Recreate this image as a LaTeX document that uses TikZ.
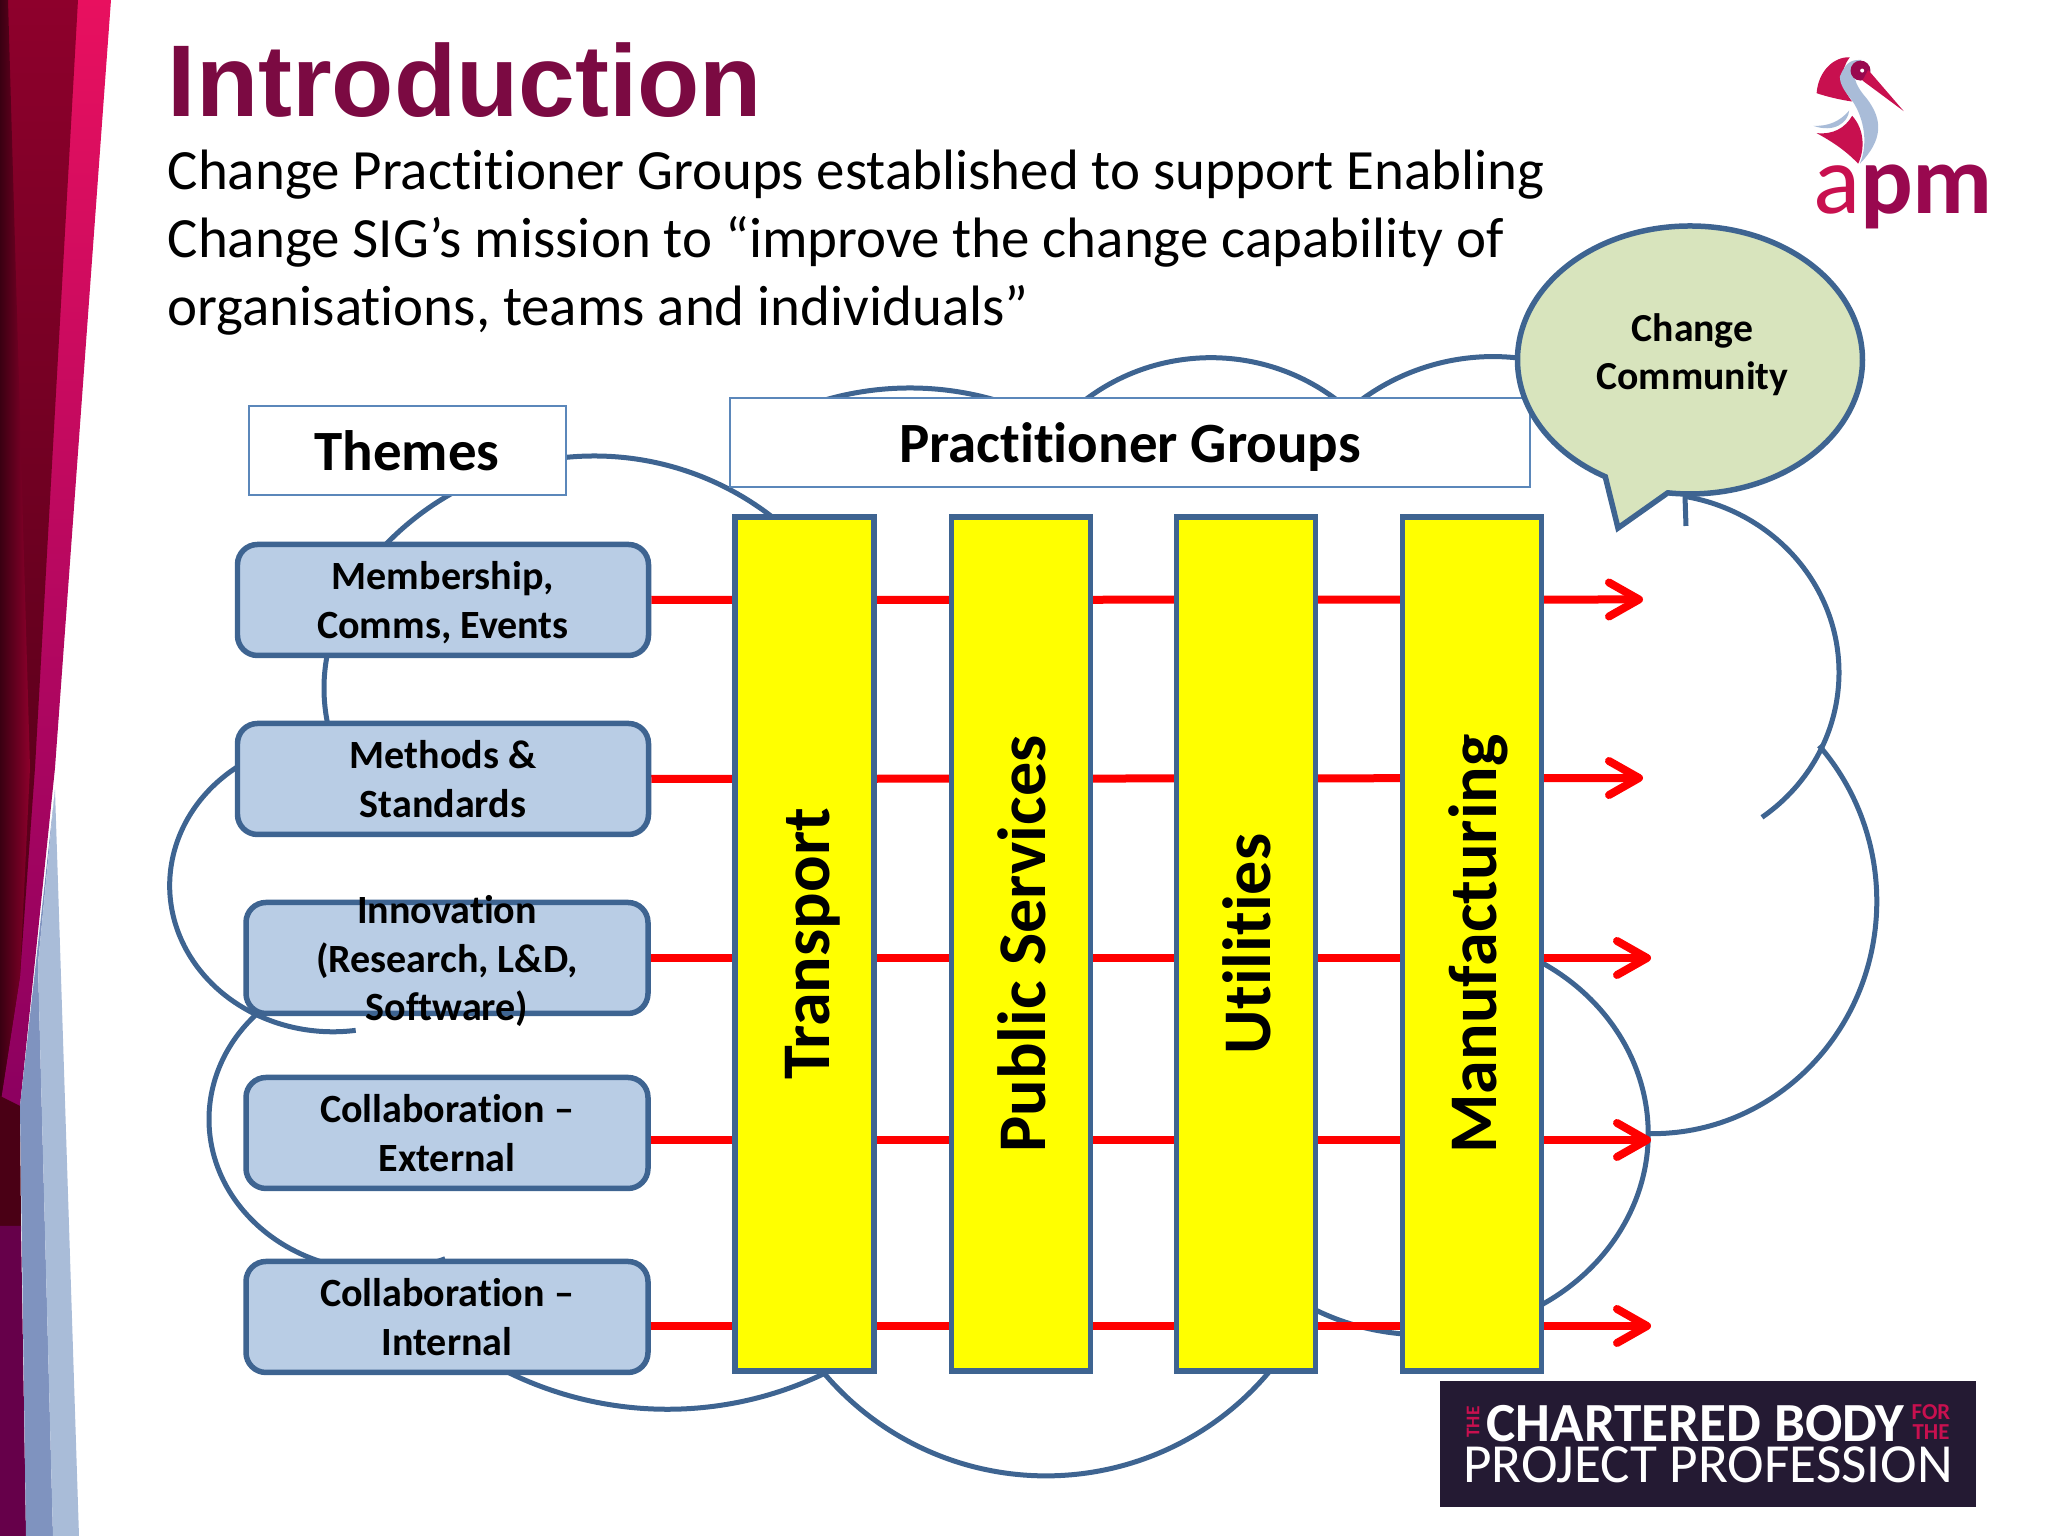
\documentclass[tikz,border=0pt]{standalone}
\usepackage{fontspec}
\setmainfont{Carlito}[Ligatures=NoCommon]
\newfontfamily\titlefont{Liberation Sans}
\usetikzlibrary{arrows.meta,positioning,backgrounds,shapes.callouts}
\definecolor{outline}{HTML}{3E6491}
\definecolor{thinline}{HTML}{5B87BA}
\definecolor{themefill}{HTML}{B9CDE5}
\definecolor{bubblefill}{HTML}{D8E4BD}
\definecolor{barfill}{HTML}{FFFF00}
\definecolor{arrowred}{HTML}{FF0000}
\definecolor{titlecol}{HTML}{7B0A42}
\definecolor{bannercol}{HTML}{241A33}
\definecolor{pinkcol}{HTML}{E8105F}
\definecolor{magentacol}{HTML}{8C0060}
\definecolor{crimson}{HTML}{8E002C}
\definecolor{banddark}{HTML}{3A0012}
\definecolor{bandred}{HTML}{4A0015}
\definecolor{bandpurple}{HTML}{66004A}
\definecolor{bandblue}{HTML}{7F93BF}
\definecolor{apmdark}{HTML}{99084F}
\definecolor{apmred}{HTML}{C8104F}
\definecolor{apmblue}{HTML}{A9BCD8}
\newcommand{\barlabel}[1]{\rotatebox{90}{\rule[-6pt]{0pt}{26pt}#1}}
\newcommand{\cloudarc}[6]{\draw [cloud] (#1,#2) ++(#5:#3 and #4) arc [start angle=#5, end angle=#6, x radius=#3, y radius=#4];}

\begin{document}
\begin{tikzpicture}[node distance=2cm, auto]
      % Define block styles
      \tikzstyle{theme} = [rectangle, draw=outline, line width=0.055cm, fill=themefill, rounded corners=0.2cm, minimum width=4.02cm, minimum height=1.11cm, align=center, inner sep=0pt, text depth=-0.9pt, font=\fontsize{11.4}{13.7}\selectfont\bfseries]
      \tikzstyle{sector} = [rectangle, draw=outline, line width=0.055cm, fill=barfill, minimum width=1.39cm, minimum height=8.54cm, inner sep=0pt, font=\fontsize{19.4}{24}\selectfont\bfseries]
      \tikzstyle{header} = [rectangle, draw=thinline, line width=0.02cm, fill=white, minimum height=0.89cm, inner sep=0pt, text depth=0pt, font=\fontsize{16.2}{16}\selectfont\bfseries]
      \tikzstyle{line} = [draw=arrowred, line width=0.08cm, -{Straight Barb[length=0.3cm, width=0.34cm, round]}]
      \tikzstyle{cloud} = [draw=outline, line width=0.05cm]

      \useasboundingbox (0,0) rectangle (20.48,15.36);

      % Side band
      \shade [top color=pinkcol, middle color=pinkcol, bottom color=magentacol] (0,15.36) -- (1.11,15.36) -- (0.55,7.68) -- (0.20,4.30) -- (0,4.30) -- cycle;
      \shade [top color=crimson, bottom color=bandred] (0,15.36) -- (0.78,15.36) -- (0.35,7.68) -- (0.20,5.60) -- (0,4.30) -- cycle;
      \shade [left color=banddark, right color=crimson] (0,15.36) -- (0.08,15.36) -- (0.30,7.68) -- (0.20,5.60) -- (0,4.30) -- cycle;
      \fill [bandred] (0,4.40) -- (0.20,4.30) -- (0.21,3.10) -- (0,3.10) -- cycle;
      \fill [bandpurple] (0,3.10) -- (0.21,3.10) -- (0.26,0) -- (0,0) -- cycle;
      \fill [bandblue] (0.55,7.46) -- (0.20,4.30) -- (0.26,0) -- (0.53,0) -- (0.38,5.72) -- cycle;
      \fill [apmblue] (0.55,7.46) -- (0.79,0) -- (0.53,0) -- (0.38,5.72) -- cycle;

      % Title and intro text
      \node [anchor=base west, inner sep=0pt, text=titlecol, font=\fontsize{29}{29}\titlefont\bfseries] (title) at (1.67,14.19) {Introduction};
      \node [anchor=north west, inner sep=0pt, align=left, font=\fontsize{16.2}{19.35}\selectfont] (intro) at (1.67,13.87) {Change Practitioner Groups established to support Enabling\\Change SIG’s mission to “improve the change capability of\\organisations, teams and individuals”};

      % Place theme blocks
      \node [theme, minimum width=4.11cm] (member) at (4.43,9.36) {Membership,\\Comms, Events};
      \node [theme, minimum width=4.11cm, below of=member, node distance=1.79cm] (methods) {Methods \&\\Standards};
      \node [theme, inner ysep=-0.5cm] (innov) at (4.47,5.78) {Innovation\\(Research, L\&D,\\Software)};
      \node [theme, below of=innov, node distance=1.75cm] (external) {Collaboration –\\External};
      \node [theme, below of=external, node distance=1.84cm] (internal) {Collaboration –\\Internal};
      \node [header, minimum width=3.17cm] (themes) at (4.07,10.855) {Themes};

      % Place sector bars
      \node [sector] (transport) at (8.045,5.92) {\barlabel{Transport}};
      \node [sector, right of=transport, node distance=2.165cm] (public) {\barlabel{Public Services}};
      \node [sector, right of=public, node distance=2.25cm] (utilities) {\barlabel{Utilities}};
      \node [sector, right of=utilities, node distance=2.26cm] (manufact) {\barlabel{Manufacturing}};
      \node [header, minimum width=8cm] (groups) at (11.30,10.93) {Practitioner Groups};

      % Speech bubble
      \node [ellipse callout, draw=outline, line width=0.055cm, fill=bubblefill, minimum width=3.45cm, minimum height=2.68cm, inner sep=0pt, callout absolute pointer={(16.18,10.08)}, callout pointer arc=22, align=center, text depth=0.17cm, font=\fontsize{11.3}{13.7}\selectfont\bfseries] (community) at (16.90,11.76) {\hspace*{0.05cm}Change\\\hspace*{0.05cm}Community};

      % Arrow ends
      \coordinate (endA) at (16.43,9.365);
      \coordinate (endB) at (16.43,7.58);
      \coordinate (endC) at (16.51,5.78);
      \coordinate (endD) at (16.51,3.96);
      \coordinate (endE) at (16.51,2.10);

      \begin{scope}[on background layer]
        % Cloud pieces
        \cloudarc{14.93}{9.574}{2.22}{2.22}{80}{140}
        \cloudarc{12.11}{9.70}{2.083}{2.083}{45}{135}
        \cloudarc{9.10}{8.41}{3.07}{3.07}{70}{110}
        \cloudarc{5.943}{7.90}{2.90}{2.90}{48}{142}
        \cloudarc{4.99}{8.477}{1.75}{1.75}{164}{196}
        \cloudarc{3.33}{6.505}{1.633}{1.463}{119}{278}
        \cloudarc{3.788}{4.167}{1.698}{1.515}{130}{293}
        \cloudarc{6.674}{4.885}{3.618}{3.618}{240}{300}
        \cloudarc{10.46}{3.514}{2.913}{2.913}{217}{323}
        \cloudarc{14.236}{4.023}{2.246}{2.011}{62}{-122}
        \cloudarc{16.522}{6.348}{2.246}{2.325}{-91}{42}
        \cloudarc{16.522}{8.634}{1.868}{1.789}{-54}{80}
        \draw [cloud] (16.85,10.40) -- (16.86,10.10);
        % Draw lines
        \path [line] (member.east) -- (endA);
        \path [line] (methods.east) -- (endB);
        \path [line] (innov.east) -- (endC);
        \path [line] (external.east |- endD) -- (endD);
        \path [line] (internal.east |- endE) -- (endE);
      \end{scope}

      % Logo
      \begin{scope}[shift={(17.90,14.96)}, x=0.00333cm, y=-0.00333cm]
        \fill [apmred] (80,160) .. controls (85,95) and (130,50) .. (180,52) .. controls (150,90) and (150,140) .. (187,185) .. controls (150,180) and (110,170) .. cycle;
        \fill [apmblue] (150,110) .. controls (170,60) and (190,60) .. (215,60) .. controls (180,90) and (190,130) .. (230,175) .. controls (280,240) and (280,300) .. (210,372) .. controls (240,300) and (215,220) .. (185,180) .. controls (165,155) and (150,135) .. cycle;
        \fill [apmblue] (70,258) .. controls (115,260) and (150,245) .. (178,212) .. controls (175,250) and (130,280) .. cycle;
        \fill [apmred] (80,280) .. controls (130,285) and (165,265) .. (187,228) .. controls (225,270) and (225,330) .. (205,372) .. controls (165,330) and (125,305) .. cycle;
        \fill [apmdark] (212,92) circle [radius=30];
        \fill [apmred] (235,90) -- (342,214) -- (218,122) -- cycle;
        \fill [white] (217,92) circle [radius=6];
      \end{scope}
      \node [inner sep=0pt, anchor=base, text=apmdark, font=\fontsize{28}{28}\selectfont\bfseries] (apm) at (19.03,13.22) {\textcolor{apmred}{\mdseries a}pm};

      % Banner
      \node [rectangle, fill=bannercol, minimum width=5.36cm, minimum height=1.26cm, inner sep=0pt, align=center, text=white] (banner) at (17.08,0.92) {{\fontsize{15.7}{12}\selectfont\bfseries CHARTERED BODY\hspace*{0.25cm}}\\[-0.4pt]{\fontsize{15.7}{12}\selectfont PROJECT PROFESSION}};
      \node [inner sep=0pt, text=apmred, font=\fontsize{5.5}{5.5}\selectfont\bfseries] (bannerthe) at (14.73,1.14) {\rotatebox{90}{THE}};
      \node [inner sep=0pt, text=apmred, align=center, font=\fontsize{6.5}{5.5}\selectfont\bfseries] (bannerfor) at (19.31,1.14) {FOR\\THE};
\end{tikzpicture}
\end{document}
